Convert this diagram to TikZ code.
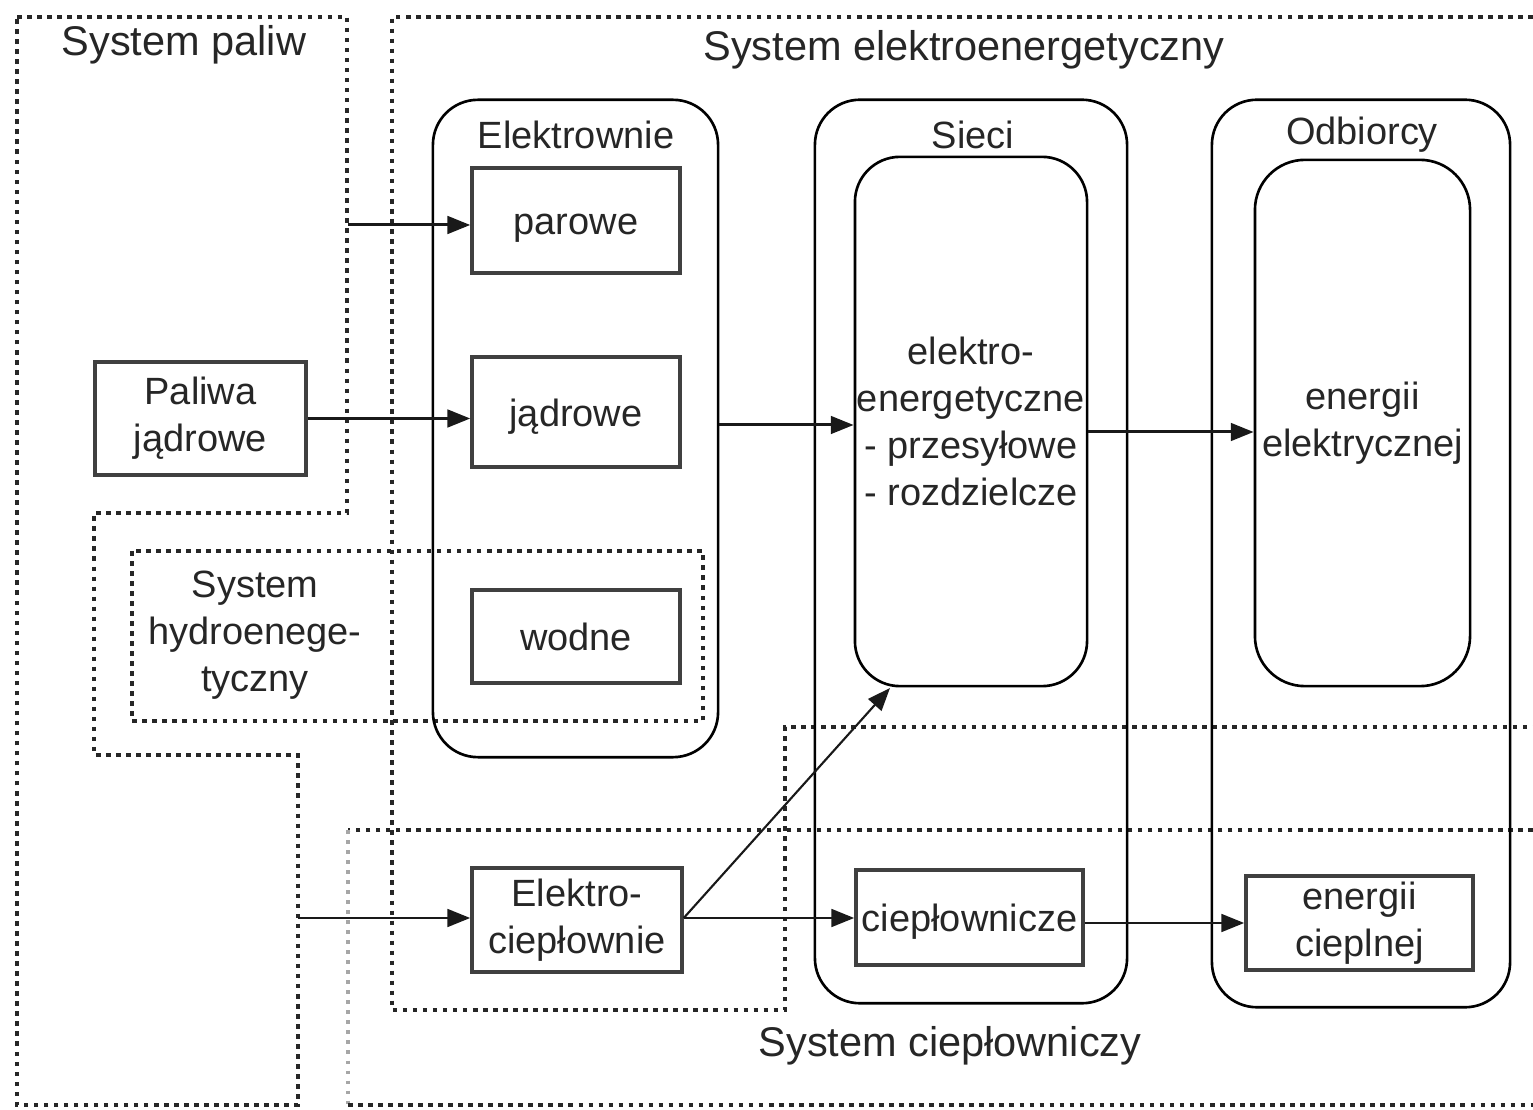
\documentclass[tikz,border=0pt]{standalone}
\usepackage{fontspec}
\setmainfont{Liberation Sans}
\usetikzlibrary{arrows.meta}
\begin{document}
\begin{tikzpicture}[x=0.01cm,y=-0.01cm,
  every node/.style={font=\fontsize{10.8pt}{13.4pt}\selectfont, text=black!85, inner sep=0pt},
  title/.style={font=\fontsize{11.8pt}{14pt}\selectfont, align=center},
  sysline/.style={draw=black!85, line width=1.4pt, dash pattern=on 1.3pt off 1.55pt},
  sysfaint/.style={draw=black!35, line width=1.1pt, dash pattern=on 1.1pt off 1.75pt},
  rbox/.style={draw=black, line width=0.75pt, rounded corners=0.45cm},
  sbox/.style={draw=black!75, line width=0.95pt, align=center},
  oneline/.style={text height=9pt, text depth=0.8pt},
  lbl/.style={align=center},
  arr/.style={draw=black!90, line width=0.85pt, -{Triangle[length=6.5pt,width=5pt]}},
]
\fill[white] (0,0) rectangle (1533,1110);
\useasboundingbox (0,0) rectangle (1533,1110);

% ---- system boundaries (dotted) ----
\draw[sysline] (17,17) -- (347,17) -- (347,513) -- (94,513) -- (94,755) -- (298,755) -- (298,1105) -- (17,1105) -- cycle;
\draw[sysline] (1533,17) -- (392,17) -- (392,1010) -- (785,1010) -- (785,727) -- (1533,727);
\draw[sysline] (132,551) rectangle (703,721);
\draw[sysline] (1533,830) -- (348,830);
\draw[sysfaint] (348,830) -- (348,1105);
\draw[sysline] (348,1105) -- (1533,1105);

% ---- system titles ----
\node[title] (tPal) at (184,45) {System paliw};
\node[title] (tEl) at (964,50) {System elektroenergetyczny};
\node[lbl] (tHyd) at (255,635) {System\\hydroenege-\\tyczny};
\node[title] (tCiep) at (950,1046) {System ciepłowniczy};

% ---- group containers ----
\node[rbox, minimum width=2.85cm, minimum height=6.57cm] (elek) at (575.5,428.5) {};
\node[lbl] (tElek) at (576,135) {Elektrownie};
\node[rbox, minimum width=3.12cm, minimum height=9.03cm] (sieci) at (971,551.5) {};
\node[lbl] (tSieci) at (973,135) {Sieci};
\node[rbox, minimum width=2.98cm, minimum height=9.07cm] (odb) at (1361,553.5) {};
\node[lbl] (tOdb) at (1362,135) {Odbiorcy};

% ---- boxes ----
\node[sbox, oneline, minimum width=2.08cm, minimum height=1.05cm] (parowe) at (576,220.5) {parowe};
\node[sbox, oneline, minimum width=2.08cm, minimum height=1.10cm] (jadrowe) at (576,412) {jądrowe};
\node[sbox, oneline, minimum width=2.08cm, minimum height=0.93cm] (wodne) at (576,636.5) {wodne};
\node[sbox, minimum width=2.11cm, minimum height=1.13cm] (paliwa) at (200.5,418.5) {Paliwa\\jądrowe};
\node[sbox, minimum width=2.10cm, minimum height=1.04cm] (elcp) at (577,920) {Elektro-\\ciepłownie};
\node[rbox, align=center, minimum width=2.32cm, minimum height=5.29cm] (siecEl) at (971,421.5) {elektro-\\energetyczne\\- przesyłowe\\- rozdzielcze};
\node[rbox, align=center, minimum width=2.15cm, minimum height=5.26cm, rounded corners=0.5cm] (odbEl) at (1362.5,423) {energii\\elektrycznej};
\node[sbox, oneline, minimum width=2.27cm, minimum height=0.95cm] (ciepl) at (969.5,917.5) {ciepłownicze};
\node[sbox, minimum width=2.27cm, minimum height=0.94cm] (odbCp) at (1359.5,923) {energii\\cieplnej};

% ---- connector endpoints ----
\coordinate (inPar) at (348,225);
\coordinate (inElcp) at (298,918);
\coordinate (diagTip) at (890,688);

% ---- connectors ----
\draw[arr] (inPar) -- (inPar -| parowe.west);
\draw[arr] (paliwa.east) -- (paliwa.east -| jadrowe.west);
\draw[arr] (inElcp) -- (inElcp -| elcp.west);
\draw[arr] (elek.east |- 0,425) -- (siecEl.west |- 0,425);
\draw[arr] (siecEl.east |- 0,432) -- (odbEl.west |- 0,432);
\draw[arr] (elcp.east |- 0,918) -- (ciepl.west |- 0,918);
\draw[arr, line width=0.6pt] (elcp.east |- 0,918) -- (diagTip);
\draw[arr] (ciepl.east |- odbCp.west) -- (odbCp.west);
\end{tikzpicture}
\end{document}
